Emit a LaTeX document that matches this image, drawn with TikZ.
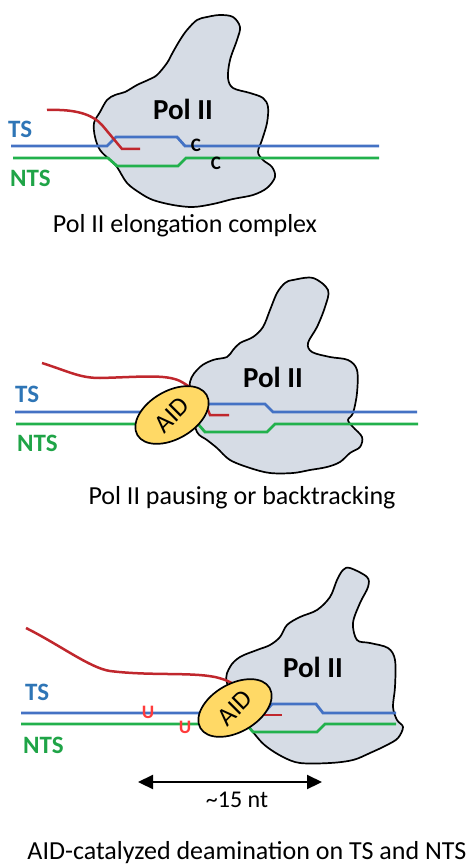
\documentclass[tikz,border=0pt]{standalone}
\usepackage{fontspec}
\usepackage{graphicx}
\setmainfont{Carlito}
\usetikzlibrary{arrows.meta,shapes.geometric}
\definecolor{tsblue}{HTML}{4472C4}
\definecolor{ntsgreen}{HTML}{22B14C}
\definecolor{rnared}{HTML}{C0272D}
\definecolor{polfill}{HTML}{D6DCE5}
\definecolor{aidfill}{HTML}{FFD966}
\definecolor{tslabel}{HTML}{2E75B6}
\definecolor{ntslabel}{HTML}{1FA447}
\definecolor{ured}{HTML}{FF3B3B}
\tikzset{
  polii/.style={draw=black, line width=1.7pt, fill=polfill},
  tsline/.style={draw=tsblue, line width=2.8pt},
  ntsline/.style={draw=ntsgreen, line width=2.8pt},
  rna/.style={draw=rnared, line width=2.5pt},
  aidbody/.style={ellipse, draw=black, line width=1.7pt, fill=aidfill,
    minimum width=80pt, minimum height=48pt, inner sep=0pt,
    font=\fontsize{26}{26}\selectfont},
  tslbl/.style={font=\fontsize{25}{25}\selectfont\bfseries, text=tslabel, anchor=base west, inner sep=0pt},
  ntslbl/.style={font=\fontsize{25}{25}\selectfont\bfseries, text=ntslabel, anchor=base west, inner sep=0pt},
  polname/.style={font=\fontsize{29}{29}\selectfont\bfseries, anchor=base, inner sep=0pt},
  caption/.style={font=\fontsize{26}{26}\selectfont, anchor=base, inner sep=0pt},
  base/.style={font=\fontsize{19}{19}\selectfont\bfseries, inner sep=0pt},
  span/.style={{Triangle[length=15pt,width=14pt]}-{Triangle[length=15pt,width=14pt]}, line width=2.2pt},
}
\begin{document}
\begin{tikzpicture}[x=1pt,y=-1pt]
\useasboundingbox (0,0) rectangle (472,866);

% ---------- elongation complex ----------
\draw[polii] plot[smooth cycle, tension=0.55] coordinates {
  (220,15) (233,17) (240,27) (237,40) (230,60) (228,78) (233,88) (250,93)
  (263,98) (268,107) (267,123) (262,140) (258,152) (263,160) (272,167)
  (275,177) (267,188) (253,195) (233,199) (213,204) (193,207) (173,205)
  (153,200) (140,193) (127,183) (117,167) (110,160) (100,150) (95,137)
  (94,123) (100,112) (107,100) (115,95) (125,92) (137,85) (148,80)
  (157,75) (167,63) (173,52) (180,40) (187,30) (197,20) (207,17)};
\draw[tsline] (11,146) -- (107,146) -- (116,137) -- (177,137) -- (185,146) -- (379,146);
\draw[ntsline] (13,158) -- (108,158) -- (117,166) -- (178,166) -- (186,158) -- (379,158);
\draw[rna] (47,110) .. controls (75,109) and (92,114) .. (102,125) -- (122,149) -- (140,149);
\node[polname] (pol1) at (183,120) {Pol II};
\node[base] (c1) at (196,145) {C};
\node[base] (c2) at (216,163) {C};
\node[tslbl] (ts1) at (8,138) {TS};
\node[ntslbl] (nts1) at (10,187) {NTS};
\node[caption] (cap1) at (185,233) {Pol II elongation complex};

% ---------- pausing / backtracking ----------
\draw[polii] plot[smooth cycle, tension=0.55] coordinates {
  (293,280) (313,278) (328,290) (325,307) (317,327) (308,343) (312,352)
  (330,357) (348,360) (357,370) (357,393) (353,413) (348,420) (353,427)
  (362,437) (360,447) (350,453) (340,462) (327,467) (310,470) (293,473)
  (270,473) (250,468) (230,460) (217,448) (207,440) (197,432) (192,410)
  (190,382) (200,367) (213,360) (227,357) (233,350) (240,343) (253,337)
  (263,327) (270,310) (277,293) (285,283)};
\draw[tsline] (15,412) -- (200,412) -- (207,404) -- (265,404) -- (273,412) -- (417,412);
\draw[ntsline] (16,424) -- (198,424) -- (205,432) -- (267,432) -- (275,424) -- (418,424);
\draw[rna] (42,363) .. controls (70,372) and (80,378) .. (100,378)
  .. controls (140,377) and (165,374) .. (180,381)
  .. controls (195,389) and (205,400) .. (208,410) -- (210,415) -- (229,415);
\node[aidbody, rotate=30] (aid2) at (172,415) {\rotatebox{15}{AID}};
\node[polname] (pol2) at (273,387) {Pol II};
\node[tslbl] (ts2) at (15,402) {TS};
\node[ntslbl] (nts2) at (17,451) {NTS};
\node[caption] (cap2) at (242,504) {Pol II pausing or backtracking};

% ---------- deamination ----------
\draw[polii] plot[smooth cycle, tension=0.55] coordinates {
  (350,568) (367,577) (368,587) (360,603) (353,623) (357,640) (370,643)
  (388,648) (395,660) (395,687) (393,707) (397,720) (403,727) (398,738)
  (387,745) (370,753) (353,760) (330,763) (300,763) (283,757) (267,747)
  (257,737) (245,720) (227,683) (230,667) (240,657) (257,650) (270,645)
  (280,637) (287,625) (300,617) (317,610) (330,597) (337,580) (343,570)};
\draw[tsline] (21,713) -- (264,713) -- (272,704) -- (316,704) -- (323,713) -- (396,713);
\draw[ntsline] (21,724) -- (246,724) -- (253,732) -- (317,732) -- (325,724) -- (396,724);
\draw[rna] (26,628) .. controls (60,645) and (90,668) .. (110,671)
  .. controls (150,676) and (190,672) .. (215,677)
  .. controls (228,680) and (235,684) .. (240,690);
\draw[rna] (262,715) -- (282,715);
\node[aidbody, rotate=30] (aid3) at (235,708) {\rotatebox{15}{AID}};
\node[base, text=ured] (u1) at (148,712) {U};
\node[base, text=ured] (u2) at (185,727) {U};
\node[polname] (pol3) at (313,677) {Pol II};
\node[tslbl] (ts3) at (25,700) {TS};
\node[ntslbl] (nts3) at (23,753) {NTS};
\coordinate (spanl) at (138,782);
\coordinate (spanr) at (322,782);
\draw[span] (spanl) -- (spanr);
\node[caption, font=\fontsize{24}{24}\selectfont] (nt) at (237,807) {\textasciitilde15 nt};
\node[caption] (cap3) at (247,859) {AID-catalyzed deamination on TS and NTS};
\end{tikzpicture}
\end{document}
